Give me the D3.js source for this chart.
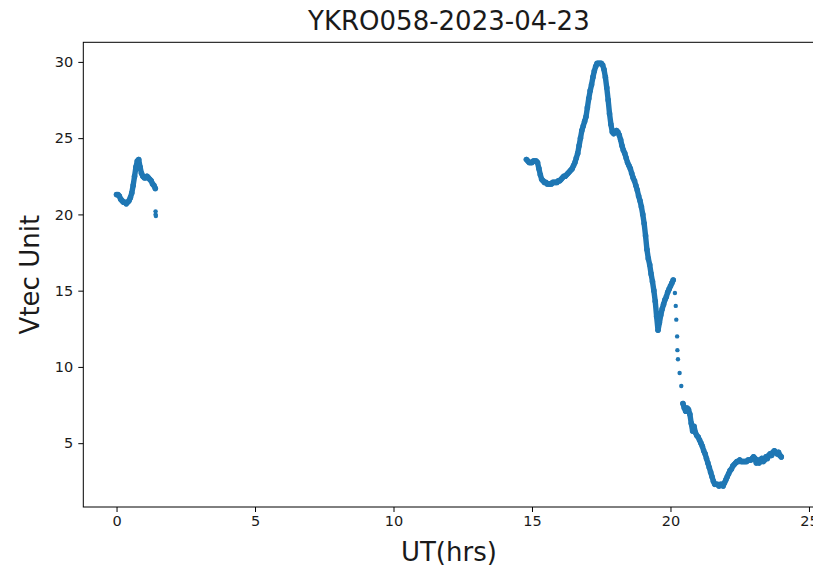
<!DOCTYPE html>
<html>
<head>
<meta charset="utf-8">
<script src="https://cdn.jsdelivr.net/npm/d3@7/dist/d3.min.js"></script>
<style>
  html, body { margin: 0; padding: 0; background: #fff; }
  svg { display: block; }
  text { font-family: "DejaVu Sans", sans-serif; fill: #1a1a1a; }
</style>
</head>
<body>
<svg id="chart" width="813" height="572"></svg>
<script>
// Station / day shown in the title
const titleText = "YKRO058-2023-04-23";

// Axis ticks
const xTicks = [0, 5, 10, 15, 20, 25];
const yTicks = [5, 10, 15, 20, 25, 30];

// VTEC samples, every 0.05 h (3 min), early-morning pass
const morningStart = 0.00;
const morningStep = 0.05;
const morningVtec = [
  21.3, 21.3, 21.2, 21.0, 20.9, 20.8, 20.8, 20.7, 20.8, 20.9,
  21.1, 21.4, 21.9, 22.5, 23.1, 23.5, 23.6, 23.1, 22.7, 22.5,
  22.4, 22.4, 22.5, 22.4, 22.3, 22.2, 22.0, 21.9, 21.7
];

// Isolated samples right after the morning pass [UT h, VTEC]
const morningTail = [[1.41, 20.2], [1.41, 20.0], [1.42, 19.9]];

// Afternoon pass, 14.80 h to 20.10 h
const afternoonStart = 14.80;
const afternoonStep = 0.05;
const afternoonVtec = [
  23.6, 23.5, 23.4, 23.4, 23.4, 23.5, 23.5, 23.5, 23.4, 23.0,
  22.6, 22.3, 22.2, 22.1, 22.1, 22.0, 22.0, 22.0, 22.0, 22.1,
  22.1, 22.1, 22.1, 22.2, 22.2, 22.3, 22.4, 22.5, 22.5, 22.6,
  22.7, 22.8, 22.9, 23.0, 23.2, 23.4, 23.7, 24.0, 24.5, 25.0,
  25.5, 25.8, 26.1, 26.4, 27.0, 27.6, 28.1, 28.5, 29.0, 29.4,
  29.7, 29.9, 29.9, 29.9, 29.9, 29.8, 29.5, 29.0, 28.3, 27.5,
  26.6, 25.9, 25.4, 25.3, 25.4, 25.5, 25.4, 25.2, 24.9, 24.5,
  24.2, 24.0, 23.7, 23.4, 23.2, 23.0, 22.7, 22.4, 22.2, 21.9,
  21.6, 21.2, 20.9, 20.5, 20.0, 19.4, 18.6, 17.7, 17.1, 16.7,
  16.1, 15.6, 15.0, 14.3, 13.3, 12.4, 12.9, 13.4, 13.8, 14.1,
  14.4, 14.6, 14.9, 15.1, 15.3, 15.5, 15.7
];

// Sparse samples during the sharp drop [UT h, VTEC]
const dropSamples = [
  [20.16, 14.85], [20.19, 14.0], [20.21, 13.1], [20.24, 12.0],
  [20.25, 11.1], [20.27, 10.5], [20.33, 9.6], [20.39, 8.75]
];

// Evening pass, 20.45 h to 24.00 h
const eveningStart = 20.45;
const eveningStep = 0.05;
const eveningVtec = [
  7.6, 7.3, 7.1, 7.3, 7.2, 6.9, 6.3, 5.8, 6.1, 5.7,
  5.5, 5.4, 5.2, 5.0, 4.8, 4.5, 4.3, 4.0, 3.7, 3.4,
  3.1, 2.8, 2.5, 2.3, 2.3, 2.3, 2.2, 2.3, 2.3, 2.2,
  2.4, 2.6, 2.8, 3.0, 3.2, 3.3, 3.5, 3.6, 3.7, 3.8,
  3.8, 3.9, 3.8, 3.8, 3.8, 3.8, 3.8, 3.9, 3.9, 3.9,
  4.0, 4.1, 4.0, 3.7, 3.9, 3.7, 3.9, 4.0, 3.8, 3.9,
  4.1, 4.0, 4.2, 4.3, 4.2, 4.4, 4.5, 4.4, 4.3, 4.4,
  4.2, 4.1
];

// ---------------------------------------------------------------
const toPoints = (start, step, vals) =>
  vals.map((v, i) => [+(start + i * step).toFixed(3), v]);

const runs = [
  toPoints(morningStart, morningStep, morningVtec),
  toPoints(afternoonStart, afternoonStep, afternoonVtec),
  toPoints(eveningStart, eveningStep, eveningVtec)
];
const singles = morningTail.concat(dropSamples);
const allPts = runs.flat().concat(singles);

const W = 813, H = 572;
const plot = { left: 83.3, right: 814.5, top: 42.3, bottom: 507 };

// matplotlib-style autoscale: data extent padded by 5% on each side
function padded(ext) {
  const d = (ext[1] - ext[0]) * 0.05;
  return [ext[0] - d, ext[1] + d];
}
const x = d3.scaleLinear()
  .domain(padded(d3.extent(allPts, d => d[0])))
  .range([plot.left, plot.right]);
const y = d3.scaleLinear()
  .domain(padded(d3.extent(allPts, d => d[1])))
  .range([plot.bottom, plot.top]);

const svg = d3.select("#chart");
svg.append("rect").attr("width", W).attr("height", H).attr("fill", "#fff");

const blue = "#1f77b4";
const g = svg.append("g");

// dense sample runs rendered as a thick chain of markers
const line = d3.line().x(d => x(d[0])).y(d => y(d[1]));
g.selectAll("path.run").data(runs).enter().append("path")
  .attr("class", "run")
  .attr("d", line)
  .attr("fill", "none")
  .attr("stroke", blue)
  .attr("stroke-width", 5.4)
  .attr("stroke-linejoin", "round")
  .attr("stroke-linecap", "round");

g.selectAll("circle.run-pt").data(runs.flat()).enter().append("circle")
  .attr("class", "run-pt")
  .attr("cx", d => x(d[0])).attr("cy", d => y(d[1]))
  .attr("r", 2.8).attr("fill", blue);

g.selectAll("circle.single").data(singles).enter().append("circle")
  .attr("class", "single")
  .attr("cx", d => x(d[0])).attr("cy", d => y(d[1]))
  .attr("r", 2.2).attr("fill", blue);

// axes
const xAxis = svg.append("g")
  .attr("transform", `translate(0,${plot.bottom})`)
  .call(d3.axisBottom(x).tickValues(xTicks).tickSize(5).tickPadding(4).tickSizeOuter(0));
const yAxis = svg.append("g")
  .attr("transform", `translate(${plot.left},0)`)
  .call(d3.axisLeft(y).tickValues(yTicks).tickSize(5).tickPadding(5).tickSizeOuter(0));

[xAxis, yAxis].forEach(a => {
  a.select(".domain").remove();
  a.selectAll(".tick line").attr("stroke", "#000").attr("stroke-width", 1);
  a.selectAll(".tick text")
    .attr("font-family", "DejaVu Sans, sans-serif")
    .attr("font-size", 14.5)
    .attr("fill", "#1a1a1a");
});

// frame
svg.append("rect")
  .attr("x", plot.left).attr("y", plot.top)
  .attr("width", plot.right - plot.left).attr("height", plot.bottom - plot.top)
  .attr("fill", "none").attr("stroke", "#000").attr("stroke-width", 1);

// title and axis labels
svg.append("text")
  .attr("x", (plot.left + plot.right) / 2).attr("y", 30)
  .attr("text-anchor", "middle").attr("font-size", 26)
  .text(titleText);

svg.append("text")
  .attr("x", (plot.left + plot.right) / 2).attr("y", 561)
  .attr("text-anchor", "middle").attr("font-size", 26)
  .text("UT(hrs)");

svg.append("text")
  .attr("transform", `translate(39,${(plot.top + plot.bottom) / 2}) rotate(-90)`)
  .attr("text-anchor", "middle").attr("font-size", 26)
  .text("Vtec Unit");
</script>
</body>
</html>
